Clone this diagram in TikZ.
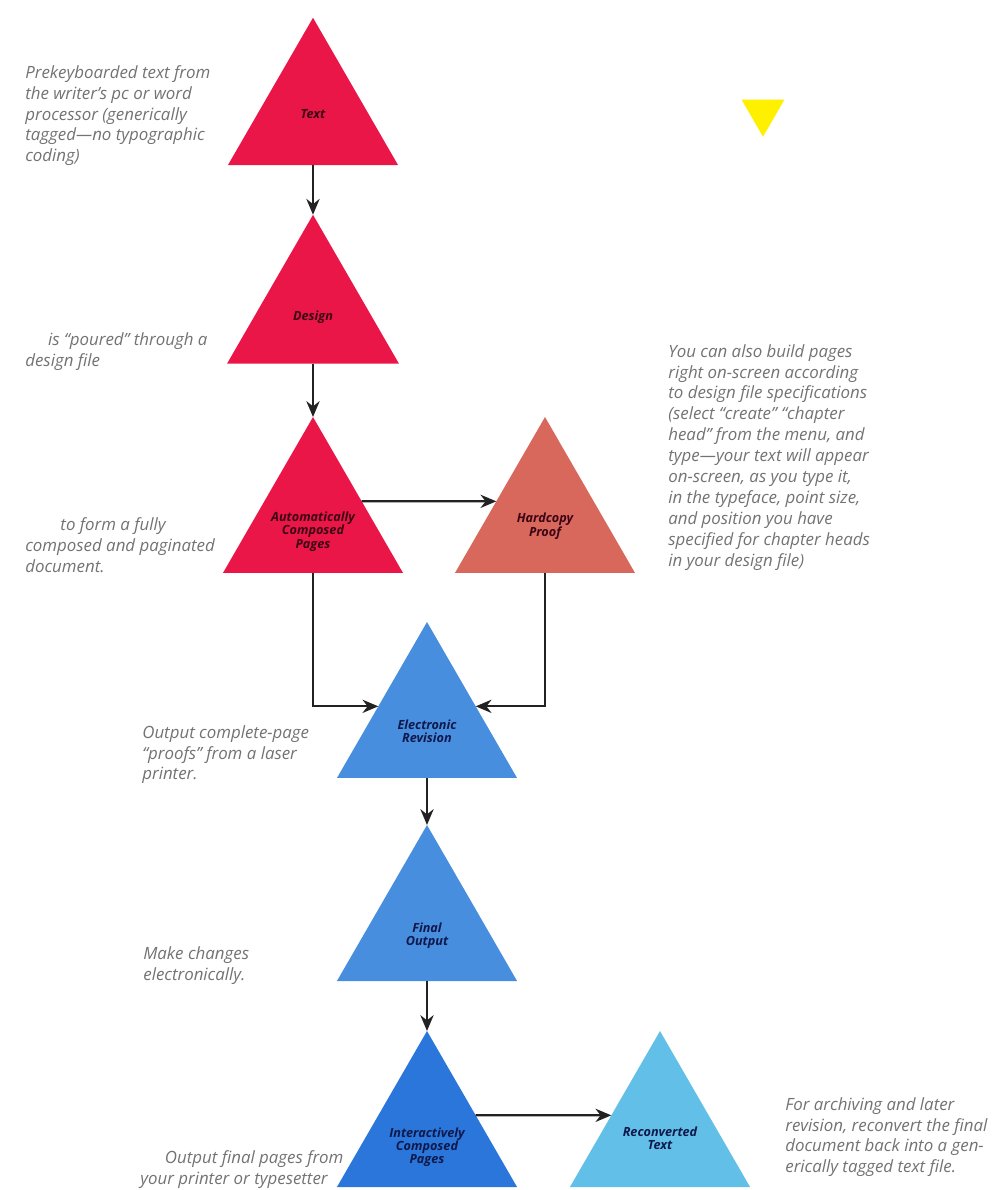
\documentclass[tikz,border=0pt]{standalone}
\usepackage{fontspec}
\setmainfont{Open Sans}
\usepackage{tikz}
\usetikzlibrary{shapes.geometric,arrows.meta}

\definecolor{crimson}{RGB}{234,22,72}
\definecolor{salmon}{RGB}{216,104,92}
\definecolor{midblue}{RGB}{72,142,222}
\definecolor{deepblue}{RGB}{42,118,218}
\definecolor{skyblue}{RGB}{98,192,232}
\definecolor{lemon}{RGB}{255,240,0}
\definecolor{inkred}{RGB}{60,5,20}
\definecolor{inknavy}{RGB}{15,25,75}
\definecolor{notegrey}{RGB}{115,115,115}
\definecolor{arrowgrey}{RGB}{34,34,34}

\begin{document}
\begin{tikzpicture}[x=0.02cm,y=-0.02cm,
        tri/.style={regular polygon, regular polygon sides=3, inner sep=0pt, outer sep=0pt, draw=none},
        lbl/.style={font=\fontsize{7.2}{7.5}\selectfont\bfseries\itshape, align=center},
        note/.style={anchor=north west, inner sep=0pt, align=left, text=notegrey, font=\fontsize{9.6}{11.9}\selectfont\itshape},
        arr/.style={draw=arrowgrey, line width=1.3pt, -{Stealth[length=9pt,width=7.5pt]}}]
                \fill[white] (0,0) rectangle (991,1190);
                \useasboundingbox (0,0) rectangle (991,1190);

                \node[tri, minimum size=3.93cm, fill=crimson, label={[lbl, text=inkred, yshift=1pt]center:Text}] (text) at (313,116) {};
                \node[tri, minimum size=3.97cm, fill=crimson, label={[lbl, text=inkred, yshift=-2pt]center:Design}] (design) at (313,314) {};
                \node[tri, minimum size=4.16cm, fill=crimson, label={[lbl, text=inkred, yshift=-6pt]center:{Automatically\\Composed\\Pages}}] (autopages) at (313,521) {};
                \node[tri, minimum size=4.16cm, fill=salmon, label={[lbl, text=inkred, yshift=-3pt]center:{Hardcopy\\Proof}}] (hardcopy) at (545,521) {};
                \node[tri, minimum size=4.16cm, fill=midblue, label={[lbl, text=inknavy, yshift=-3pt]center:{Electronic\\Revision}}] (revision) at (427,726) {};
                \node[tri, minimum size=4.16cm, fill=midblue, label={[lbl, text=inknavy, yshift=-4pt]center:{Final\\Output}}] (output) at (427,929) {};
                \node[tri, minimum size=4.16cm, fill=deepblue, label={[lbl, text=inknavy, yshift=-7pt]center:{Interactively\\Composed\\Pages}}] (interpages) at (427,1135) {};
                \node[tri, minimum size=4.16cm, fill=skyblue, label={[lbl, text=inknavy, yshift=-2pt]center:{Reconverted\\Text}}] (reconverted) at (660,1135) {};
                \node[tri, minimum size=0.99cm, shape border rotate=180, fill=lemon] (marker) at (763,112) {};

                \draw[arr] (text.south) -- (design.north);
                \draw[arr] (design.south) -- (autopages.north);
                \draw[arr] (autopages.22) -- (hardcopy.158);
                \draw[arr] (autopages.south) |- (revision.158);
                \draw[arr] (hardcopy.south) |- (revision.22);
                \draw[arr] (revision.south) -- (output.north);
                \draw[arr] (output.south) -- (interpages.north);
                \draw[arr] (interpages.22) -- (reconverted.158);

                \node[note] (keyed) at (25,65) {Prekeyboarded text from\\the writer’s pc or word\\processor (generically\\tagged—no typographic\\coding)};
                \node[note] (poured) at (25,332) {\hspace*{13pt}is “poured” through a\\design file};
                \node[note] (paginated) at (25,517) {\hspace*{20pt}to form a fully\\composed and paginated\\document.};
                \node[note] (proofs) at (142,725) {Output complete-page\\“proofs” from a laser\\printer.};
                \node[note] (changes) at (143,946) {Make changes\\electronically.};
                \node[note] (finalpages) at (140,1150) {\hspace*{14pt}Output final pages from\\your printer or typesetter};
                \node[note] (onscreen) at (668,344) {You can also build pages\\right on-screen according\\to design file specifications\\(select “create” “chapter\\head” from the menu, and\\type—your text will appear\\on-screen, as you type it,\\in the typeface, point size,\\and position you have\\specified for chapter heads\\in your design file)};
                \node[note] (archiving) at (785,1097) {For archiving and later\\revision, reconvert the final\\document back into a gen-\\erically tagged text file.};
            \end{tikzpicture}
\end{document}
